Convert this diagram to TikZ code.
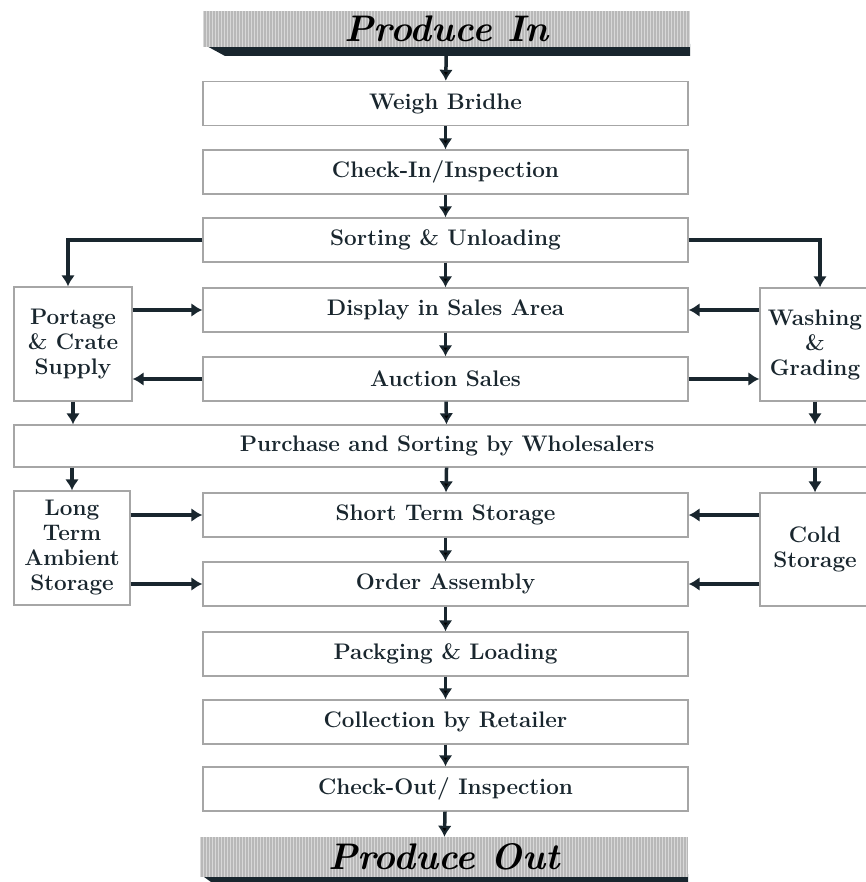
\documentclass[tikz,border=0pt]{standalone}
\usepackage{tikz}
\usetikzlibrary{arrows.meta, positioning}
\definecolor{ink}{rgb}{0.10,0.15,0.18}
\definecolor{bannergray}{rgb}{0.72,0.72,0.72}
\tikzstyle{box}    = [draw=gray!70, line width=1.4pt, fill=white, inner sep=0pt,
                      minimum width=485pt, minimum height=44pt, text=ink,
                      font=\fontsize{22.5}{25}\selectfont\bfseries]
\tikzstyle{side}   = [box, minimum width=118pt, minimum height=114pt, align=center,
                      font=\fontsize{22.5}{25}\selectfont\bfseries]
\tikzstyle{banner} = [fill=bannergray, inner sep=0pt, minimum width=487pt, minimum height=36pt,
                      text=black, font=\fontsize{37}{40}\selectfont\bfseries\itshape,
                      path picture={\foreach \s in {0,3,...,489}
                        \draw[white!45!bannergray, line width=0.6pt]
                          ([xshift=\s pt]path picture bounding box.north west) --
                          ([xshift=\s pt]path picture bounding box.south west);}]
\tikzstyle{->}     = [draw=ink, line width=3.5pt, -{Latex[length=11pt, width=14pt]}]

\begin{document}
\begin{tikzpicture}[x=1pt, y=-1pt]
\useasboundingbox (0,0) rectangle (865,882);

% shadows under the banners
\fill [ink] (203,44) -- (690,44) -- (690,56) -- (225,56) -- cycle;
\fill [ink] (200,874) -- (688,874) -- (688,890) -- (222,890) -- cycle;

% nodes
\node [banner] at (446.5, 29  ) (in)       {Produce In};
\node [box]    at (445.5, 103.5) (weigh)    {Weigh Bridhe};
\node [box]    at (445.5, 172 ) (checkin)  {Check-In/Inspection};
\node [box]    at (445.5, 240 ) (sorting)  {Sorting \& Unloading};
\node [box]    at (445.5, 310 ) (display)  {Display in Sales Area};
\node [box]    at (445.5, 379 ) (auction)  {Auction Sales};
\node [box, minimum width=866pt, minimum height=42pt]
               at (447  , 446 ) (purchase) {Purchase and Sorting by Wholesalers};
\node [box]    at (445.5, 515 ) (short)    {Short Term Storage};
\node [box]    at (445.5, 584 ) (order)    {Order Assembly};
\node [box]    at (445.5, 654 ) (packing)  {Packging \& Loading};
\node [box]    at (445.5, 722 ) (collect)  {Collection by Retailer};
\node [box]    at (445.5, 789 ) (checkout) {Check-Out/ Inspection};
\node [banner, minimum width=488pt, minimum height=40pt]
               at (444  , 857 ) (out)      {Produce Out};

\node [side]   at ( 73  , 344 ) (portage)  {Portage\\\& Crate\\Supply};
\node [side, minimum width=110pt, minimum height=113pt]
               at (815  , 344.5) (washing) {Washing\\\&\\Grading};
\node [side, minimum width=116pt]
               at ( 72  , 548 ) (longterm) {Long\\Term\\Ambient\\Storage};
\node [side, minimum width=110pt, minimum height=113pt]
               at (815  , 549.5) (cold)    {Cold\\Storage};

% main line
\path [->] (in)       edge (weigh)
           (weigh)    edge (checkin)
           (checkin)  edge (sorting)
           (sorting)  edge (display)
           (display)  edge (auction)
           (auction)  edge (purchase)
           (purchase) edge (short)
           (short)    edge (order)
           (order)    edge (packing)
           (packing)  edge (collect)
           (collect)  edge (checkout)
           (checkout) edge (out);

% side branches
\path [->] (sorting.west) -| ([xshift=-5pt]portage.north);
\path [->] (sorting.east) -| ([xshift=5pt]washing.north);
\path [->] (display.west -| portage.east) -- (display.west);
\path [->] (auction.west) -- (auction.west -| portage.east);
\path [->] (display.east -| washing.west) -- (display.east);
\path [->] (auction.east) -- (auction.east -| washing.west);
\path [->] (portage.south) -- (portage.south |- purchase.north);
\path [->] (washing.south) -- (washing.south |- purchase.north);
\path [->] (longterm.north |- purchase.south) -- (longterm.north);
\path [->] (cold.north |- purchase.south) -- (cold.north);
\path [->] (short.west -| longterm.east) -- (short.west);
\path [->] (order.west -| longterm.east) -- (order.west);
\path [->] (short.east -| cold.west) -- (short.east);
\path [->] (order.east -| cold.west) -- (order.east);

\end{tikzpicture}
\end{document}
